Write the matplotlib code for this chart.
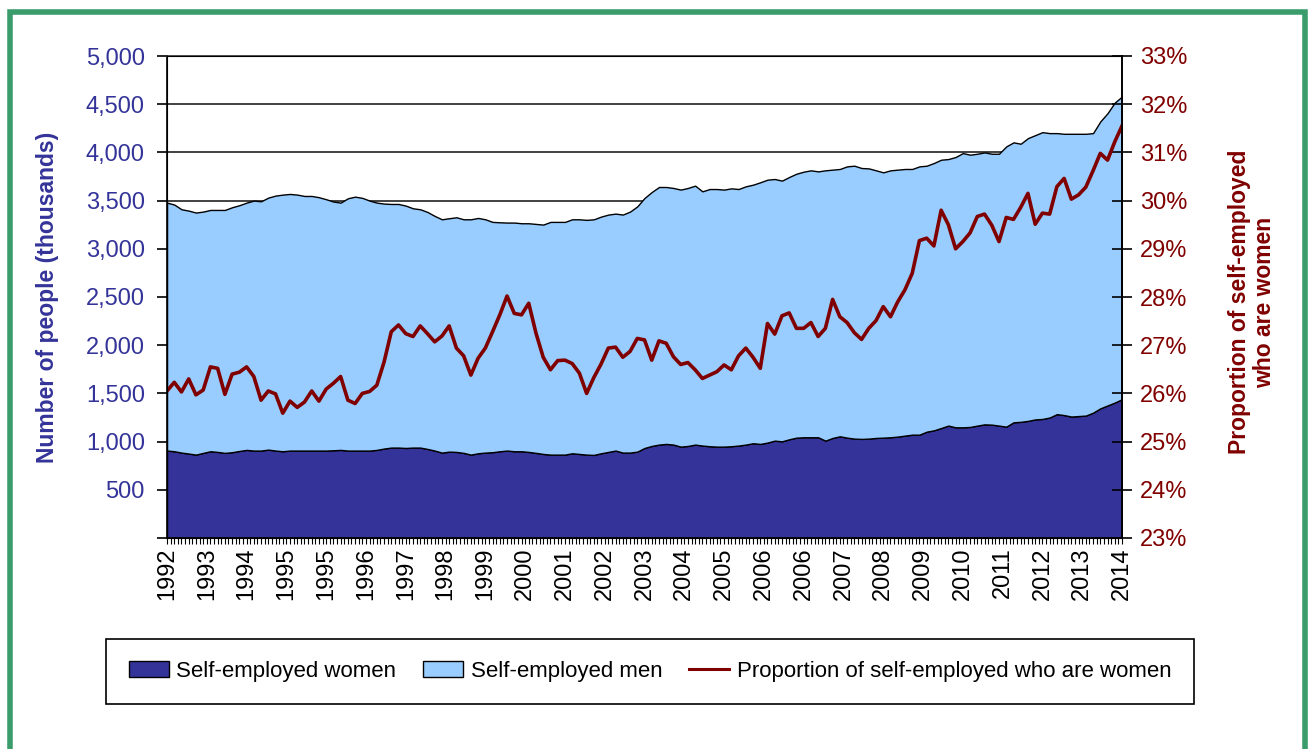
import numpy as np
import matplotlib
matplotlib.use('Agg')
import matplotlib.pyplot as plt
from matplotlib.patches import Patch, Rectangle
from matplotlib.lines import Line2D
from matplotlib.ticker import MultipleLocator, FuncFormatter

plt.rcParams['font.family'] = ['Liberation Sans', 'DejaVu Sans']

# monthly series, read every second month (index 0 = first month of 1992)
month = np.arange(0, 265, 2)

# self-employed women, thousands
women = [907, 900, 886, 876, 865, 883, 900, 893, 883, 890, 903, 914, 907, 907, 917, 907,
         900, 907, 907, 907, 907, 907, 907, 910, 914, 907, 907, 907, 907, 914, 928, 938,
         938, 934, 938, 938, 924, 907, 886, 896, 893, 883, 865, 879, 886, 890, 900, 907,
         900, 900, 893, 883, 872, 865, 865, 865, 879, 872, 865, 862, 879, 893, 907, 886,
         886, 896, 934, 955, 969, 976, 969, 948, 955, 969, 959, 952, 948, 948, 952, 959,
         969, 983, 976, 990, 1010, 1003, 1024, 1041, 1045, 1045, 1045, 1010, 1038, 1055, 1041, 1031,
         1028, 1031, 1038, 1041, 1045, 1052, 1062, 1072, 1072, 1103, 1117, 1141, 1166, 1148, 1148, 1152,
         1166, 1179, 1176, 1166, 1155, 1200, 1205, 1215, 1230, 1235, 1250, 1285, 1275, 1260, 1265, 1270,
         1300, 1345, 1375, 1405, 1440]

# all self-employed (top of the stack), thousands
total = [3479, 3459, 3410, 3396, 3376, 3386, 3403, 3403, 3403, 3431, 3452, 3479, 3500, 3493, 3531, 3552,
         3562, 3569, 3562, 3548, 3548, 3535, 3514, 3490, 3479, 3524, 3541, 3528, 3500, 3479, 3469, 3465,
         3465, 3448, 3420, 3410, 3382, 3341, 3306, 3317, 3327, 3306, 3306, 3320, 3306, 3279, 3275, 3272,
         3272, 3265, 3265, 3258, 3251, 3279, 3279, 3279, 3306, 3306, 3300, 3306, 3334, 3355, 3365, 3355,
         3386, 3440, 3527, 3589, 3641, 3641, 3631, 3614, 3631, 3655, 3596, 3620, 3620, 3614, 3627, 3620,
         3648, 3665, 3690, 3717, 3724, 3707, 3745, 3779, 3800, 3814, 3803, 3814, 3821, 3828, 3855, 3862,
         3838, 3834, 3814, 3793, 3814, 3821, 3828, 3828, 3855, 3862, 3890, 3924, 3931, 3952, 3993, 3976,
         3986, 4000, 3986, 3986, 4062, 4104, 4090, 4148, 4179, 4210, 4200, 4200, 4193, 4193, 4193, 4193,
         4200, 4321, 4407, 4517, 4580]

# share of self-employed who are women, %
share = [26.05, 26.23, 26.03, 26.30, 25.97, 26.07, 26.55, 26.52, 25.98, 26.40, 26.44, 26.55, 26.35, 25.86, 26.05, 25.99,
         25.59, 25.84, 25.71, 25.82, 26.05, 25.84, 26.09, 26.21, 26.35, 25.86, 25.79, 26.00, 26.04, 26.17, 26.65, 27.28,
         27.42, 27.24, 27.18, 27.40, 27.24, 27.07, 27.19, 27.40, 26.94, 26.78, 26.38, 26.73, 26.94, 27.28, 27.63, 28.02,
         27.66, 27.63, 27.87, 27.25, 26.75, 26.49, 26.68, 26.69, 26.62, 26.42, 26.00, 26.33, 26.61, 26.94, 26.96, 26.75,
         26.87, 27.14, 27.11, 26.69, 27.09, 27.04, 26.76, 26.60, 26.64, 26.49, 26.31, 26.38, 26.45, 26.59, 26.49, 26.78,
         26.94, 26.75, 26.52, 27.45, 27.23, 27.61, 27.67, 27.35, 27.35, 27.47, 27.18, 27.35, 27.95, 27.59, 27.47, 27.26,
         27.12, 27.35, 27.51, 27.80, 27.59, 27.90, 28.15, 28.49, 29.17, 29.22, 29.06, 29.80, 29.50, 29.00, 29.15, 29.33,
         29.67, 29.72, 29.49, 29.15, 29.65, 29.61, 29.86, 30.15, 29.51, 29.74, 29.72, 30.29, 30.46, 30.03, 30.12, 30.28,
         30.62, 30.98, 30.84, 31.22, 31.55]

year_labels = ['1992', '1993', '1994', '1995', '1995', '1996', '1997', '1998', '1999', '2000',
               '2001', '2002', '2003', '2004', '2005', '2006', '2006', '2007', '2008', '2009',
               '2010', '2011', '2012', '2013', '2014']

women_c = '#333399'
men_c = '#99CCFF'
share_c = '#800000'

men = np.array(total) - np.array(women)

fig = plt.figure(figsize=(13.08, 7.49), dpi=100)
W, H = 1308, 749
ax = fig.add_axes([167 / W, 1 - 538 / H, (1122 - 167) / W, (538 - 56) / H])

ax.stackplot(month, women, men, colors=[women_c, men_c], edgecolor='black', linewidth=1.0)
ax.set_xlim(0, 264)
ax.set_ylim(0, 5000)
ax.yaxis.set_major_locator(MultipleLocator(500))
ax.yaxis.set_major_formatter(FuncFormatter(lambda v, p: '' if v == 0 else f'{v:,.0f}'))
ax.grid(axis='y', color='#333333', linewidth=1.3)
ax.set_axisbelow(True)

ax.set_xticks(range(0, 265, 11))
ax.set_xticklabels(year_labels, rotation=90)
ax.xaxis.set_minor_locator(MultipleLocator(1))
ax.tick_params(axis='x', which='both', length=4, width=0.8, labelsize=17, pad=3)
ax.tick_params(axis='y', length=7, width=1.2, labelcolor=women_c, labelsize=17, pad=9)
for s in ['left', 'bottom', 'right', 'top']:
    ax.spines[s].set_linewidth(1.2)
ax.spines['top'].set_color('#333333')

# proportion on the right axis
ax2 = ax.twinx()
ax2.plot(month, share, color=share_c, linewidth=2.6)
ax2.set_ylim(23, 33)
ax2.yaxis.set_major_locator(MultipleLocator(1))
ax2.yaxis.set_major_formatter(FuncFormatter(lambda v, p: f'{v:.0f}%'))
ax2.tick_params(axis='y', direction='inout', length=14, width=1.2, labelcolor=share_c,
                labelsize=17, pad=6)
ax2.spines['right'].set_linewidth(1.2)

fig.text(48 / W, 1 - 297 / H, 'Number of people (thousands)', rotation=90, fontsize=16.5,
         fontweight='bold', color=women_c, ha='center', va='center')
fig.text(1252 / W, 1 - 302 / H, 'Proportion of self-employed\nwho are women', rotation=90,
         fontsize=16.5, fontweight='bold', color=share_c, ha='center', va='center',
         multialignment='center', linespacing=1.15)

handles = [Patch(facecolor=women_c, edgecolor='black', linewidth=1),
           Patch(facecolor=men_c, edgecolor='black', linewidth=1),
           Line2D([0], [0], color=share_c, linewidth=2.2)]
labels = ['Self-employed women', 'Self-employed men', 'Proportion of self-employed who are women']
leg = fig.legend(handles, labels, loc='center', bbox_to_anchor=(650 / W, 1 - 671.5 / H), ncol=3,
                 fontsize=16, frameon=True, fancybox=False, edgecolor='black', framealpha=1,
                 handlelength=1.8, handleheight=0.75, handletextpad=0.35, columnspacing=1.2,
                 borderpad=1.0)
leg.get_frame().set_linewidth(1.2)

# green frame round the whole picture
fig.patches.append(Rectangle((10 / W, -0.05), (1305 - 10) / W, 1 - 12 / H + 0.05,
                             transform=fig.transFigure, fill=False, edgecolor='#3A9B6B',
                             linewidth=4, zorder=10))

fig.savefig('out.png', dpi=100)
